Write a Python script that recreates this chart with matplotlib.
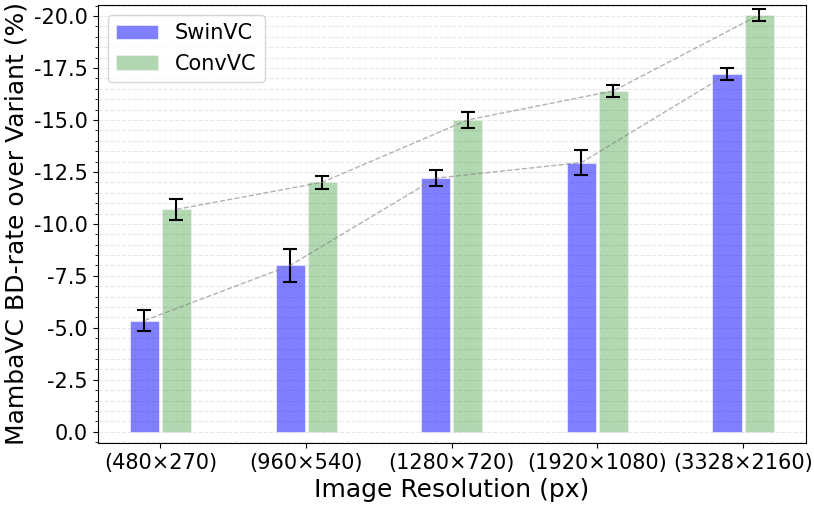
import matplotlib
matplotlib.use("Agg")
import matplotlib.pyplot as plt
from matplotlib.ticker import MultipleLocator
import numpy as np

# BD-rate of MambaVC over each variant (negative = savings)
resolutions = ["(480×270)", "(960×540)", "(1280×720)", "(1920×1080)", "(3328×2160)"]
swin_vals = [-5.35, -8.0, -12.2, -12.95, -17.2]
swin_err = [0.5, 0.8, 0.4, 0.6, 0.3]
conv_vals = [-10.7, -12.0, -15.0, -16.4, -20.05]
conv_err = [0.5, 0.3, 0.4, 0.3, 0.3]


def main():
    fig, ax = plt.subplots(figsize=(8.14, 5.09), dpi=100)
    fig.subplots_adjust(left=0.12, right=0.99, top=0.991, bottom=0.13)

    x = np.arange(len(resolutions))
    w = 0.2
    off = 0.11

    ax.bar(x - off, swin_vals, w, color="blue", alpha=0.5, edgecolor="white",
           linewidth=0.8, label="SwinVC", zorder=2)
    ax.bar(x + off, conv_vals, w, color="green", alpha=0.3, edgecolor="white",
           linewidth=0.8, label="ConvVC", zorder=2)
    ax.errorbar(x - off, swin_vals, yerr=swin_err, fmt="none", ecolor="black",
                elinewidth=1.5, capsize=5, capthick=1.5, zorder=3)
    ax.errorbar(x + off, conv_vals, yerr=conv_err, fmt="none", ecolor="black",
                elinewidth=1.5, capsize=5, capthick=1.5, zorder=3)

    # trend lines through bar tops
    ax.plot(x - off, swin_vals, ls="--", color="gray", alpha=0.6, lw=1, zorder=4)
    ax.plot(x + off, conv_vals, ls="--", color="gray", alpha=0.6, lw=1, zorder=4)

    ax.set_ylim(0.53, -20.55)
    ax.yaxis.set_major_locator(MultipleLocator(2.5))
    ax.yaxis.set_minor_locator(MultipleLocator(0.5))
    ax.yaxis.set_major_formatter(plt.FuncFormatter(
        lambda v, p: "0.0" if abs(v) < 1e-9 else f"{v:.1f}".replace("\u2212", "-")))
    ax.grid(axis="y", which="both", ls="--", color="lightgray", alpha=0.5, zorder=0)
    ax.set_axisbelow(True)

    ax.set_xticks(x)
    ax.set_xticklabels(resolutions, fontsize=15)
    ax.tick_params(axis="y", labelsize=15)
    ax.set_xlabel("Image Resolution (px)", fontsize=18)
    ax.set_ylabel("MambaVC BD-rate over Variant (%)", fontsize=18)
    ax.legend(loc="upper left", fontsize=15)

    fig.savefig("out.png", dpi=100)
    plt.close(fig)


if __name__ == "__main__":
    main()
